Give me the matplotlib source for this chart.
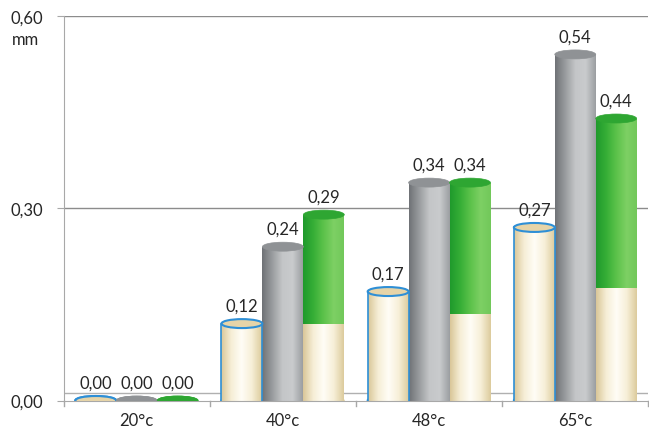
import numpy as np
import matplotlib
matplotlib.use("Agg")
import matplotlib.pyplot as plt
from matplotlib.patches import Ellipse
from matplotlib.colors import LinearSegmentedColormap

plt.rcParams["font.family"] = ["Lato", "DejaVu Sans"]

categories = ["20°c", "40°c", "48°c", "65°c"]
series_cream = [0.00, 0.12, 0.17, 0.27]
series_gray = [0.00, 0.24, 0.34, 0.54]
series_green = [0.00, 0.29, 0.34, 0.44]
green_base = [0.00, 0.12, 0.135, 0.175]
yticks = [0.0, 0.30, 0.60]
ytick_labels = ["0,00", "0,30", "0,60"]

FS = 12

fig = plt.figure(figsize=(6.49, 4.35), dpi=100)
ax = fig.add_axes([0.098, 0.077, 0.901, 0.884])
ax.set_xlim(-0.5, 3.5)
ax.set_ylim(0, 0.6)

cream_cmap = LinearSegmentedColormap.from_list("cream", ["#d9c698", "#f6eed6", "#fffdf6", "#f7efd8", "#dccb9c"])
gray_cmap = LinearSegmentedColormap.from_list("gray", ["#6f7276", "#999c9f", "#c4c6c8", "#c9cbcd", "#9b9ea1"])
green_cmap = LinearSegmentedColormap.from_list("green", ["#1f9a2c", "#36ae36", "#5cc24a", "#7dd064", "#72c85a"])

bw = 0.28
grad = np.linspace(0, 1, 256).reshape(1, -1)
eh = 0.014

def cylinder(x, y0, y1, cmap, edge=None):
    if y1 <= y0:
        return
    rect = ax.bar(x, y1 - y0, bw, bottom=y0, color="none", edgecolor="none", zorder=2)[0]
    im = ax.imshow(grad, cmap=cmap, aspect="auto",
                   extent=(x - bw / 2, x + bw / 2, y0, y1), zorder=2)
    im.set_clip_path(rect)
    if edge is not None:
        ax.plot([x - bw / 2, x - bw / 2], [y0, y1], color=edge, lw=1.2, zorder=3)
        ax.plot([x + bw / 2, x + bw / 2], [y0, y1], color=edge, lw=1.2, zorder=3)

def top_ellipse(x, y, face, edge=None):
    e = Ellipse((x, y), bw, eh, facecolor=face,
                edgecolor=edge if edge else face, lw=1.5 if edge else 0.5, zorder=4)
    ax.add_patch(e)

def bottom_ellipse(x, y, color, edge=None):
    e = Ellipse((x, y), bw, eh, facecolor=color,
                edgecolor=edge if edge else color, lw=1.5 if edge else 0.5, zorder=1.9)
    ax.add_patch(e)

def label(x, v):
    ax.text(x, v + 0.016, f"{v:.2f}".replace(".", ","), ha="center", va="bottom",
            fontsize=FS, color="#262626", zorder=6)

xs = np.arange(len(categories))
for i in xs:
    xc, xg, xgr = i - bw, i, i + bw
    v = series_cream[i]
    bottom_ellipse(xc, 0, "#e3d3a8", "#2e8fd6")
    cylinder(xc, 0, v, cream_cmap, edge="#2e8fd6")
    top_ellipse(xc, v, "#e6d4a8", "#2e8fd6")
    label(xc, v)
    v = series_gray[i]
    bottom_ellipse(xg, 0, "#9a9da0")
    cylinder(xg, 0, v, gray_cmap)
    top_ellipse(xg, v, "#8f9295")
    label(xg, v)
    v = series_green[i]
    b = green_base[i]
    bottom_ellipse(xgr, 0, "#dccb9c" if b > 0 else "#2fb034")
    cylinder(xgr, 0, b, cream_cmap)
    cylinder(xgr, b, v, green_cmap)
    top_ellipse(xgr, v, "#2ea632")
    label(xgr, v)

for yv in yticks[1:]:
    ax.axhline(yv, color="#8c8c8c", lw=1.0, zorder=0.5)
ax.axhline(0.011, color="#b0b0b0", lw=1.0, zorder=0.5)
for s in ["top", "right"]:
    ax.spines[s].set_visible(False)
ax.spines["left"].set_color("#a8a8a8")
ax.spines["bottom"].set_color("#a8a8a8")

ax.set_yticks(yticks)
ax.set_yticklabels(ytick_labels, fontsize=FS, color="#262626")
ax.set_xticks(xs)
ax.set_xticklabels(categories, fontsize=FS, color="#262626")
ax.tick_params(axis="x", length=0, pad=8)
ax.tick_params(axis="y", length=5, color="#a8a8a8", direction="out", pad=10)
for b in np.arange(-0.5, 3.6, 1.0):
    ax.plot([b, b], [0, -0.008], color="#a8a8a8", lw=1.0, clip_on=False, zorder=1)

fig.text(0.0185, 0.908, "mm", fontsize=FS, color="#262626", va="center", ha="left")

fig.savefig("out.png", dpi=100)
